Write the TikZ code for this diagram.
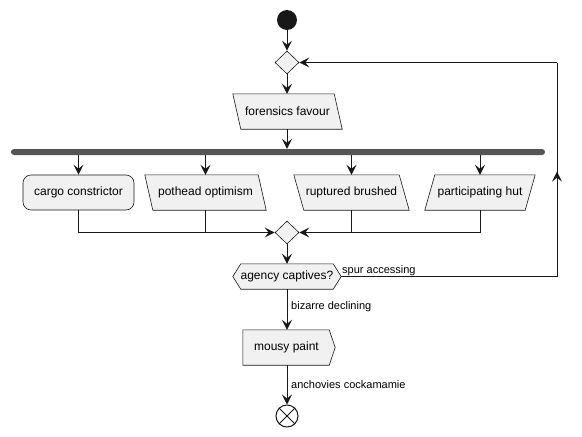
\documentclass[tikz,border=0pt]{standalone}
\usepackage{fontspec}
\setmainfont{Liberation Sans}
\usetikzlibrary{arrows.meta,calc,shapes.geometric,backgrounds,decorations.markings}
\definecolor{linec}{HTML}{181818}
\definecolor{boxfill}{HTML}{F1F1F1}
\definecolor{barc}{HTML}{555555}

\tikzset{flowtip/.tip={Stealth[length=10pt,width=10pt,inset=4pt]}}

\begin{document}
\begin{tikzpicture}[x=1pt,y=-1pt,
  txt/.style={inner sep=0pt, font=\fontsize{12}{14}\selectfont, text=black, minimum height=35pt},
  lbl/.style={inner sep=0pt, font=\fontsize{11}{13}\selectfont, text=black, anchor=west},
  outline/.style={draw=linec, fill=boxfill, line width=0.6pt},
  plain/.style={draw=linec, line width=1pt},
  flow/.style={plain, -{flowtip}},
  mergebox/.style={diamond, aspect=1, outline, minimum width=24pt, minimum height=23pt, inner sep=0pt},
]
\useasboundingbox (0,0) rectangle (582,437);

% start and first merge
\node[circle, fill=linec, minimum size=20pt, inner sep=0pt] (start) at (287,20) {};
\node[mergebox] (m1) at (287,62.5) {};

% first activity (slanted box)
\node[txt, minimum width=101pt] (ff) at (287.5,111.5) {forensics favour};

% fork bar
\node[rectangle, rounded corners=3pt, fill=barc, minimum width=534pt, minimum height=6pt, inner sep=0pt] (fork) at (278,152) {};

% parallel branches
\node[txt, outline, rounded corners=8pt, minimum width=111pt] (cc) at (78.5,192.5) {cargo constrictor};
\node[txt, minimum width=113pt] (po) at (205.5,192.5) {pothead optimism};
\node[txt, minimum width=105pt] (rb) at (351.5,192.5) {ruptured brushed};
\node[txt, minimum width=100pt] (ph) at (480,192.5) {participating hut};

% join and decision
\node[mergebox] (m2) at (287,232.5) {};
\node[txt, minimum width=108pt, minimum height=25pt] (dec) at (287,276.5) {agency captives?};

% final activity and end
\node[txt, minimum width=92pt] (mp) at (289,347.5) {\hspace*{-5pt}mousy paint};
\node[circle, draw=linec, line width=1pt, fill=white, minimum size=22pt, inner sep=0pt] (stop) at (287,416) {};
\draw[plain] (stop.north west) -- (stop.south east);
\draw[plain] (stop.north east) -- (stop.south west);

% shape outlines behind the texts
\begin{scope}[on background layer]
  \draw[outline] ($(ff.north west)+(-4,0)$) -- ($(ff.north east)+(-4,0)$) -- ($(ff.south east)+(4,0)$) -- ($(ff.south west)+(4,0)$) -- cycle;
  \draw[outline] ($(po.north west)+(-4,0)$) -- ($(po.north east)+(-4,0)$) -- ($(po.south east)+(4,0)$) -- ($(po.south west)+(4,0)$) -- cycle;
  \draw[outline] ($(rb.north west)+(-5,0)$) -- ($(rb.north east)+(-5,0)$) -- ($(rb.south east)+(5,0)$) -- ($(rb.south west)+(5,0)$) -- cycle;
  \draw[outline] ($(ph.north west)+(5,0)$) -- ($(ph.north east)+(5,0)$) -- ($(ph.south east)+(-5,0)$) -- ($(ph.south west)+(-5,0)$) -- cycle;
  \draw[outline] (dec.west) -- ($(dec.north west)+(8,0)$) -- ($(dec.north east)+(-8,0)$) -- (dec.east) -- ($(dec.south east)+(-8,0)$) -- ($(dec.south west)+(8,0)$) -- cycle;
  \draw[outline] (mp.north west) -- ($(mp.north east)+(-6,0)$) -- (mp.east) -- ($(mp.south east)+(-6,0)$) -- (mp.south west) -- cycle;
\end{scope}

% main flow
\draw[flow] (start) -- (m1);
\draw[flow] (m1) -- (ff.north -| m1);
\draw[flow] (ff.south -| m1) -- (fork.north -| m1);
\draw[flow] (fork.south -| cc.north) -- (cc.north);
\draw[flow] (fork.south -| po.north) -- (po.north);
\draw[flow] (fork.south -| rb.north) -- (rb.north);
\draw[flow] (fork.south -| ph.north) -- (ph.north);

% join lines
\draw[plain] (po.south) -- (po.south |- m2.west);
\draw[flow] (cc.south) |- (m2.west);
\draw[plain] (rb.south) -- (rb.south |- m2.east);
\draw[flow] (ph.south) |- (m2.east);

\draw[flow] (m2) -- (dec.north);
\draw[flow] (dec.south) -- (dec.south |- mp.north);
\draw[flow] (mp.south -| stop) -- (stop.north);

% loop back
\coordinate (loopA) at (557,276.5);
\coordinate (loopB) at (557,62.5);
\draw[plain] (dec.east) -- (loopA);
\draw[plain, postaction={decorate, decoration={markings, mark=at position 0.49 with {\arrow{flowtip}}}}] (loopA) -- (loopB);
\draw[flow] (loopB) -- (m1.east);

% edge labels
\node[lbl, anchor=base west] (lspur) at (342,273) {spur accessing};
\node[lbl] (lbiz) at (291,307) {bizarre declining};
\node[lbl] (lanc) at (291,385) {anchovies cockamamie};
\end{tikzpicture}
\end{document}
